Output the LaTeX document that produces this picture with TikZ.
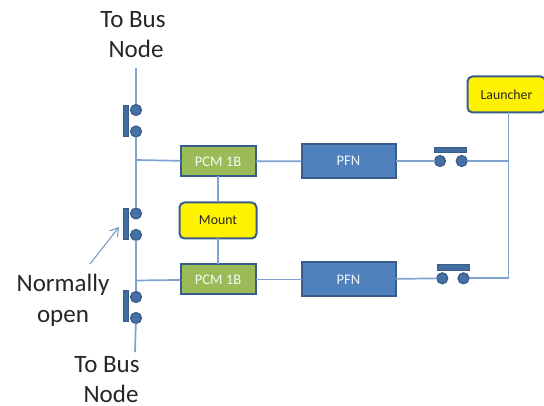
\documentclass[tikz,border=0pt]{standalone}
\usepackage{fontspec}
\setmainfont{Carlito}
\usetikzlibrary{arrows.meta}
\definecolor{wire}{HTML}{7FA3CF}
\definecolor{edge}{HTML}{385D8A}
\definecolor{fillblue}{HTML}{4F81BD}
\definecolor{pcm}{HTML}{9BBB59}
\tikzset{
 x=1pt,y=-1pt,
 wireline/.style={draw=wire,line width=1.7pt},
 box/.style={draw=edge,line width=2pt,inner sep=0pt,outer sep=0pt,anchor=center},
 pcmbox/.style={box,fill=pcm,minimum width=75pt,minimum height=30pt,text=white!92!pcm,font=\fontsize{14.6}{16}\selectfont},
 pfnbox/.style={box,fill=fillblue,minimum width=94pt,minimum height=34pt,text=white!92!fillblue,font=\fontsize{14.6}{16}\selectfont},
 yellowbox/.style={box,fill=yellow,rounded corners=5pt,minimum width=77pt,minimum height=36pt,text=black!85,font=\fontsize{13.8}{16}\selectfont},
 contact/.style={circle,draw=edge,line width=1.2pt,fill=fillblue!55!edge,minimum size=11pt,inner sep=0pt,outer sep=0pt},
 barv/.style={draw=edge,fill=fillblue!45!edge,line width=1pt,minimum width=5pt,minimum height=31pt,inner sep=0pt,outer sep=0pt},
 barh/.style={draw=edge,fill=fillblue!45!edge,line width=1pt,minimum width=32pt,minimum height=5.5pt,inner sep=0pt,outer sep=0pt},
 lab/.style={font=\fontsize{25}{27}\selectfont,text=black!85,inner sep=0pt,anchor=base},
}
\begin{document}
\begin{tikzpicture}
\useasboundingbox (0,0) rectangle (544,406);
% free ends
\coordinate (topend) at (136,68);
\coordinate (botend) at (135,352);
\coordinate (arrowstart) at (90,264);
\coordinate (arrowend) at (119,227);
% junctions
\coordinate (j1) at (136,160);
\coordinate (j2) at (136,280.5);
\coordinate (j3) at (508.5,161);
\coordinate (j4) at (508.5,278.3);
% switches on the bus
\node[contact] (a1) at (136,110) {};
\node[contact] (a2) at (136,131.5) {};
\node[barv] (abar) at (125.5,121) {};
\node[contact] (b1) at (136,213.5) {};
\node[contact] (b2) at (136,235) {};
\node[barv] (bbar) at (125.5,224) {};
\node[contact] (c1) at (136,297) {};
\node[contact] (c2) at (136,318) {};
\node[barv] (cbar) at (125.5,306.5) {};
% blocks
\node[pcmbox] (pcmA) at (218,161.5) {PCM 1B};
\node[yellowbox] (mount) at (218,220.5) {Mount};
\node[pcmbox] (pcmB) at (218,279.5) {PCM 1B};
\node[pfnbox] (pfnA) at (348.5,161) {PFN};
\node[pfnbox] (pfnB) at (348.5,279.5) {PFN};
\node[yellowbox,minimum width=78pt] (launcher) at (506.5,94.5) {Launcher};
% output switches
\node[contact] (d1) at (440,161) {};
\node[contact] (d2) at (461.7,161) {};
\node[barh] (dbar) at (450.7,150) {};
\node[contact] (e1) at (442.3,278.3) {};
\node[contact] (e2) at (463.5,278.3) {};
\node[barh] (ebar) at (453,267.7) {};
% wires
\draw[wireline] (topend) -- (a1);
\draw[wireline] (a2) -- (b1);
\draw[wireline] (b2) -- (c1);
\draw[wireline] (c2) -- (botend);
\draw[wireline] (j1) -- (pcmA);
\draw[wireline] (j2) -- (pcmB);
\draw[wireline] (pcmA) -- (mount);
\draw[wireline] (mount) -- (pcmB);
\draw[wireline] (pcmA) -- (pfnA);
\draw[wireline] (pcmB) -- (pfnB);
\draw[wireline] (pfnA) -- (d1);
\draw[wireline] (pfnB) -- (e1);
\draw[wireline] (d2) -- (j3);
\draw[wireline] (e2) -- (j4) -- (launcher.south -| j4);
\draw[draw=wire!80!edge,line width=1pt,-{Straight Barb[length=8pt,width=10pt]}] (arrowstart) -- (arrowend);
% labels
\node[lab] (l1) at (133,28) {To Bus};
\node[lab] (l2) at (136,58) {Node};
\node[lab] (l3) at (63,292) {Normally};
\node[lab] (l4) at (63,323) {open};
\node[lab] (l5) at (107,373) {To Bus};
\node[lab] (l6) at (111,402) {Node};
\end{tikzpicture}
\end{document}
